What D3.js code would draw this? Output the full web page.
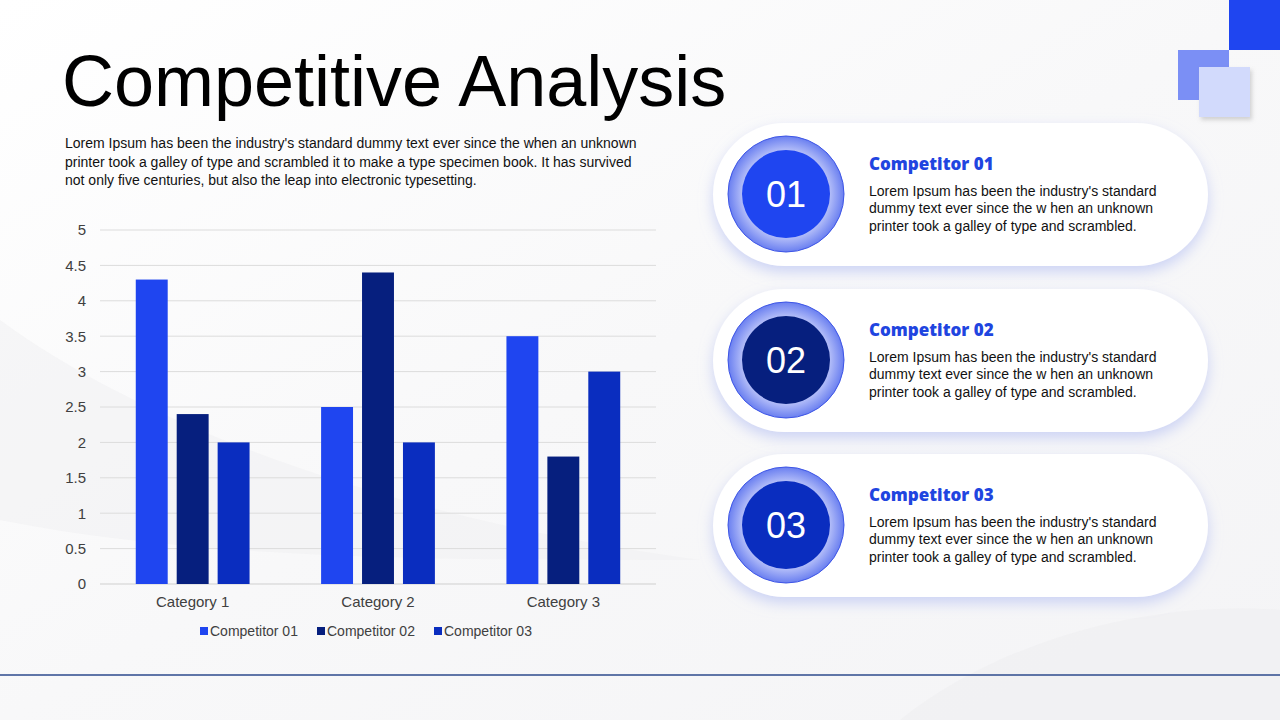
<!DOCTYPE html>
<html>
<head>
<meta charset="utf-8">
<script src="https://cdn.jsdelivr.net/npm/d3@7"></script>
<style>
  html, body { margin: 0; padding: 0; background: #fff; }
  svg { display: block; font-family: "Liberation Sans", Arial, sans-serif; }
</style>
</head>
<body>
<div id="chart"></div>
<script>
// chart data
const categories = ["Category 1", "Category 2", "Category 3"];
const series = ["Competitor 01", "Competitor 02", "Competitor 03"];
const comp01 = [4.3, 2.5, 3.5];
const comp02 = [2.4, 4.4, 1.8];
const comp03 = [2.0, 2.0, 3.0];
const yTicks = [0, 0.5, 1, 1.5, 2, 2.5, 3, 3.5, 4, 4.5, 5];

// side cards
const cardNumbers = ["01", "02", "03"];
const cardTitles = ["Competitor 01", "Competitor 02", "Competitor 03"];
const cardText = ["Lorem Ipsum has been the industry's standard",
                  "dummy text ever since the w hen an unknown",
                  "printer took a galley of type and scrambled."];
const introText = ["Lorem Ipsum has been the industry's standard dummy text ever since the when an unknown",
                   "printer took a galley of type and scrambled it to make a type specimen book. It has survived",
                   "not only five centuries, but also the leap into electronic typesetting."];

const colors = ["#1f45f0", "#061f7e", "#0a2dbf"];
const W = 1280, H = 720;

const svg = d3.select("#chart").append("svg")
  .attr("width", W).attr("height", H);

const defs = svg.append("defs");
const bg = defs.append("linearGradient").attr("id", "bg")
  .attr("x1", 0).attr("y1", 0).attr("x2", 1).attr("y2", 1);
bg.append("stop").attr("offset", 0).attr("stop-color", "#ffffff");
bg.append("stop").attr("offset", 0.5).attr("stop-color", "#f8f8f9");
bg.append("stop").attr("offset", 1).attr("stop-color", "#f4f4f6");

const ring = defs.append("radialGradient").attr("id", "ring");
ring.append("stop").attr("offset", 0.7).attr("stop-color", "#c3cbfa");
ring.append("stop").attr("offset", 1).attr("stop-color", "#6a7ff0");

const shadow = defs.append("filter").attr("id", "shadow")
  .attr("x", -0.2).attr("y", -0.3).attr("width", 1.4).attr("height", 1.7);
shadow.append("feDropShadow").attr("dx", 0).attr("dy", 6).attr("stdDeviation", 7)
  .attr("flood-color", "#b9c3f3").attr("flood-opacity", 0.7);

const sqShadow = defs.append("filter").attr("id", "sqShadow")
  .attr("x", -0.3).attr("y", -0.3).attr("width", 1.6).attr("height", 1.6);
sqShadow.append("feDropShadow").attr("dx", 2).attr("dy", 3).attr("stdDeviation", 2)
  .attr("flood-color", "#888").attr("flood-opacity", 0.35);

// background
svg.append("rect").attr("width", W).attr("height", H).attr("fill", "url(#bg)");
svg.append("path")
  .attr("d", "M0,320 C150,430 400,520 700,560 C450,560 200,560 0,520 Z")
  .attr("fill", "#efeff1").attr("opacity", 0.5);
svg.append("path")
  .attr("d", "M900,720 C1000,640 1150,600 1280,610 L1280,720 Z")
  .attr("fill", "#ededf0").attr("opacity", 0.5);

// decorative squares top right
svg.append("rect").attr("x", 1229).attr("y", 0).attr("width", 51).attr("height", 50).attr("fill", "#1f45f0");
svg.append("rect").attr("x", 1178).attr("y", 50).attr("width", 51).attr("height", 50).attr("fill", "#7b8ff5");
svg.append("rect").attr("x", 1199).attr("y", 67).attr("width", 51).attr("height", 50)
  .attr("fill", "#d2dafc").attr("filter", "url(#sqShadow)");

// bottom rule
svg.append("line").attr("x1", 0).attr("x2", W).attr("y1", 675).attr("y2", 675)
  .attr("stroke", "#2c4a8c").attr("stroke-width", 1.5);

// title and intro
svg.append("text").attr("x", 62).attr("y", 106)
  .attr("font-size", 72).attr("fill", "#000")
  .text("Competitive Analysis");

svg.append("g").selectAll("text")
  .data(introText)
  .join("text")
  .attr("x", 65).attr("y", (d, i) => 148 + i * 18.5)
  .attr("font-size", 14).attr("fill", "#111")
  .text(d => d);

// scales
const x0 = d3.scaleBand().domain(categories).range([100, 656]);
const x1 = d3.scaleBand().domain(series)
  .range([x0.bandwidth() * 0.193, x0.bandwidth() * 0.807])
  .paddingInner(0.22);
const y = d3.scaleLinear().domain([0, 5]).range([584, 230]);

// gridlines
svg.append("g").selectAll("line")
  .data(yTicks)
  .join("line")
  .attr("x1", 100).attr("x2", 656)
  .attr("y1", d => y(d)).attr("y2", d => y(d))
  .attr("stroke", d => d === 0 ? "#cfcfcf" : "#dcdcdc")
  .attr("stroke-width", 1);

// y axis labels
const yAxis = svg.append("g")
  .attr("transform", "translate(100,0)")
  .call(d3.axisLeft(y).tickValues(yTicks).tickFormat(d3.format("~g")).tickSize(0).tickPadding(14));
yAxis.select(".domain").remove();
yAxis.selectAll("text").attr("font-size", 15).attr("fill", "#404040")
  .attr("font-family", "Liberation Sans, Arial, sans-serif");

// x axis labels
const xAxis = svg.append("g")
  .attr("transform", "translate(0,584)")
  .call(d3.axisBottom(x0).tickSize(0).tickPadding(12));
xAxis.select(".domain").remove();
xAxis.selectAll("text").attr("font-size", 15).attr("fill", "#404040")
  .attr("font-family", "Liberation Sans, Arial, sans-serif");

// bars
const rows = categories.map((c, i) => ({
  cat: c,
  values: [comp01[i], comp02[i], comp03[i]].map((v, j) => ({ key: series[j], value: v, idx: j }))
}));

svg.append("g").selectAll("g")
  .data(rows)
  .join("g")
  .attr("transform", d => `translate(${x0(d.cat)},0)`)
  .selectAll("rect")
  .data(d => d.values)
  .join("rect")
  .attr("x", d => x1(d.key))
  .attr("y", d => y(d.value))
  .attr("width", x1.bandwidth())
  .attr("height", d => y(0) - y(d.value))
  .attr("fill", d => colors[d.idx]);

// legend
const legendX = [200, 317, 434];
const legend = svg.append("g").selectAll("g")
  .data(series)
  .join("g")
  .attr("transform", (d, i) => `translate(${legendX[i]},631)`);
legend.append("rect").attr("x", 0).attr("y", -4).attr("width", 8).attr("height", 8)
  .attr("fill", (d, i) => colors[i]);
legend.append("text").attr("x", 10).attr("y", 5)
  .attr("font-size", 14).attr("fill", "#404040").text(d => d);

// competitor cards
const cardY = [123, 289, 454];
const cards = svg.append("g").selectAll("g")
  .data(cardNumbers)
  .join("g")
  .attr("transform", (d, i) => `translate(713,${cardY[i]})`);

cards.append("rect")
  .attr("width", 495).attr("height", 143).attr("rx", 71.5)
  .attr("fill", "#fff").attr("filter", "url(#shadow)");

cards.append("circle").attr("cx", 73).attr("cy", 71)
  .attr("r", 58).attr("fill", "url(#ring)")
  .attr("stroke", "#3d55e6").attr("stroke-width", 1);
cards.append("circle").attr("cx", 73).attr("cy", 71)
  .attr("r", 44).attr("fill", (d, i) => colors[i]);
cards.append("text").attr("x", 73).attr("y", 84)
  .attr("text-anchor", "middle").attr("font-size", 36).attr("fill", "#fff")
  .text(d => d);

cards.append("text").attr("x", 156).attr("y", 47)
  .attr("font-family", "'Open Sans', sans-serif").attr("font-weight", 800)
  .attr("font-size", 17).attr("fill", "#1f45e0")
  .text((d, i) => cardTitles[i]);

cards.selectAll(".body")
  .data(cardText)
  .join("text")
  .attr("class", "body")
  .attr("x", 156).attr("y", (d, i) => 72.5 + i * 17.5)
  .attr("font-size", 14).attr("fill", "#111")
  .text(d => d);
</script>
</body>
</html>
